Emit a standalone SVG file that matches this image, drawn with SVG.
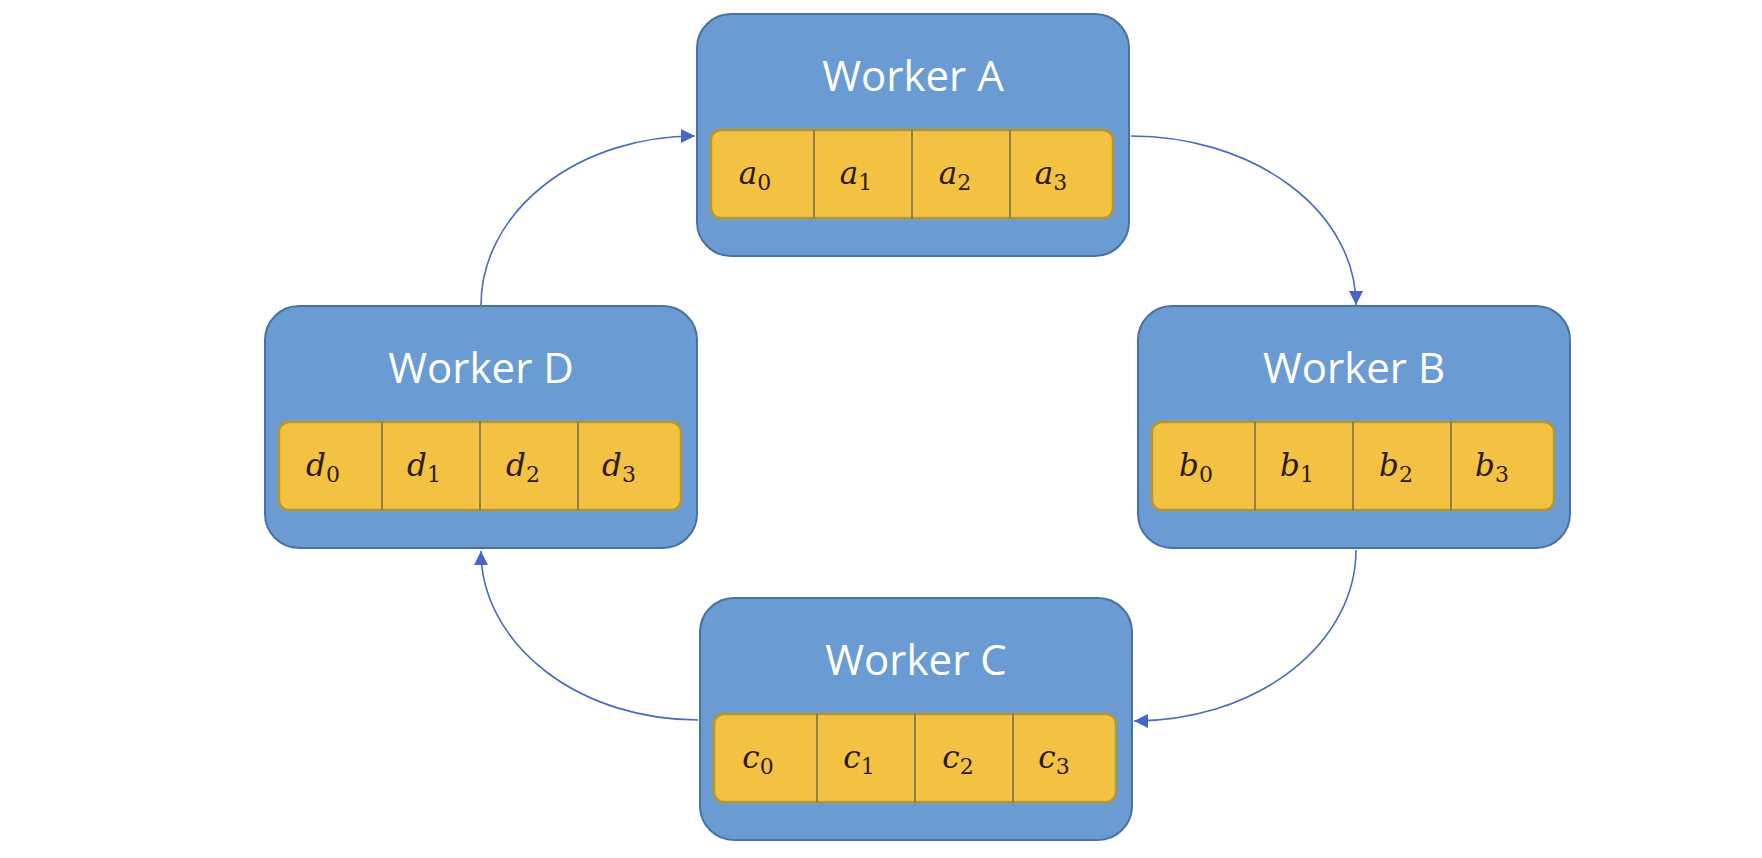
<svg xmlns="http://www.w3.org/2000/svg" width="1762" height="858" viewBox="0 0 1762 858">
  <style>
    .box { fill: #6A9BD3; stroke: #4A72A0; stroke-width: 2; }
    .bar { fill: #F4C242; stroke: #B8962E; stroke-width: 2.5; }
    .div { stroke: #6E6A4E; stroke-width: 1.5; }
    .title { font-family: "Open Sans", "Liberation Sans", sans-serif; font-size: 42px; fill: #FFFFFF; text-anchor: middle; }
    .lbl { font-family: "DejaVu Serif", "Liberation Serif", serif; font-style: italic; font-size: 31px; fill: #2B1A08; text-anchor: middle; }
    .sub { font-style: normal; font-size: 22px; }
    .conn { fill: none; stroke: #4A6BC0; stroke-width: 1.6; }
  </style>
  <defs>
    <marker id="arrow" markerUnits="userSpaceOnUse" markerWidth="16" markerHeight="16" viewBox="0 0 16 16" refX="14" refY="8" orient="auto">
      <path d="M0,1 L14,8 L0,15 Z" fill="#4566C4"/>
    </marker>
  </defs>
  <rect width="1762" height="858" fill="#FFFFFF"/>

  <g id="connectors">
    <path class="conn" d="M1131,136 A225 169 0 0 1 1356,305" marker-end="url(#arrow)"/>
    <path class="conn" d="M1356,550 A222 171 0 0 1 1134,721" marker-end="url(#arrow)"/>
    <path class="conn" d="M698,720 A217 169 0 0 1 481,551" marker-end="url(#arrow)"/>
    <path class="conn" d="M481,305 A214 169 0 0 1 695,136" marker-end="url(#arrow)"/>
  </g>

  <g id="workerA" transform="translate(697,14)">
    <rect class="box" x="0" y="0" width="432" height="242" rx="34"/>
    <text class="title" x="216" y="77">Worker A</text>
    <rect class="bar" x="14" y="116" width="402" height="88" rx="10"/>
    <line class="div" x1="117" y1="116" x2="117" y2="204"/>
    <line class="div" x1="215" y1="116" x2="215" y2="204"/>
    <line class="div" x1="313" y1="116" x2="313" y2="204"/>
    <text class="lbl" x="58" y="170">a<tspan class="sub" dy="6">0</tspan></text>
    <text class="lbl" x="159" y="170">a<tspan class="sub" dy="6">1</tspan></text>
    <text class="lbl" x="258" y="170">a<tspan class="sub" dy="6">2</tspan></text>
    <text class="lbl" x="354" y="170">a<tspan class="sub" dy="6">3</tspan></text>
  </g>

  <g id="workerB" transform="translate(1138,306)">
    <rect class="box" x="0" y="0" width="432" height="242" rx="34"/>
    <text class="title" x="216" y="77">Worker B</text>
    <rect class="bar" x="14" y="116" width="402" height="88" rx="10"/>
    <line class="div" x1="117" y1="116" x2="117" y2="204"/>
    <line class="div" x1="215" y1="116" x2="215" y2="204"/>
    <line class="div" x1="313" y1="116" x2="313" y2="204"/>
    <text class="lbl" x="58" y="170">b<tspan class="sub" dy="6">0</tspan></text>
    <text class="lbl" x="159" y="170">b<tspan class="sub" dy="6">1</tspan></text>
    <text class="lbl" x="258" y="170">b<tspan class="sub" dy="6">2</tspan></text>
    <text class="lbl" x="354" y="170">b<tspan class="sub" dy="6">3</tspan></text>
  </g>

  <g id="workerC" transform="translate(700,598)">
    <rect class="box" x="0" y="0" width="432" height="242" rx="34"/>
    <text class="title" x="216" y="77">Worker C</text>
    <rect class="bar" x="14" y="116" width="402" height="88" rx="10"/>
    <line class="div" x1="117" y1="116" x2="117" y2="204"/>
    <line class="div" x1="215" y1="116" x2="215" y2="204"/>
    <line class="div" x1="313" y1="116" x2="313" y2="204"/>
    <text class="lbl" x="58" y="170">c<tspan class="sub" dy="6">0</tspan></text>
    <text class="lbl" x="159" y="170">c<tspan class="sub" dy="6">1</tspan></text>
    <text class="lbl" x="258" y="170">c<tspan class="sub" dy="6">2</tspan></text>
    <text class="lbl" x="354" y="170">c<tspan class="sub" dy="6">3</tspan></text>
  </g>

  <g id="workerD" transform="translate(265,306)">
    <rect class="box" x="0" y="0" width="432" height="242" rx="34"/>
    <text class="title" x="216" y="77">Worker D</text>
    <rect class="bar" x="14" y="116" width="402" height="88" rx="10"/>
    <line class="div" x1="117" y1="116" x2="117" y2="204"/>
    <line class="div" x1="215" y1="116" x2="215" y2="204"/>
    <line class="div" x1="313" y1="116" x2="313" y2="204"/>
    <text class="lbl" x="58" y="170">d<tspan class="sub" dy="6">0</tspan></text>
    <text class="lbl" x="159" y="170">d<tspan class="sub" dy="6">1</tspan></text>
    <text class="lbl" x="258" y="170">d<tspan class="sub" dy="6">2</tspan></text>
    <text class="lbl" x="354" y="170">d<tspan class="sub" dy="6">3</tspan></text>
  </g>
</svg>
